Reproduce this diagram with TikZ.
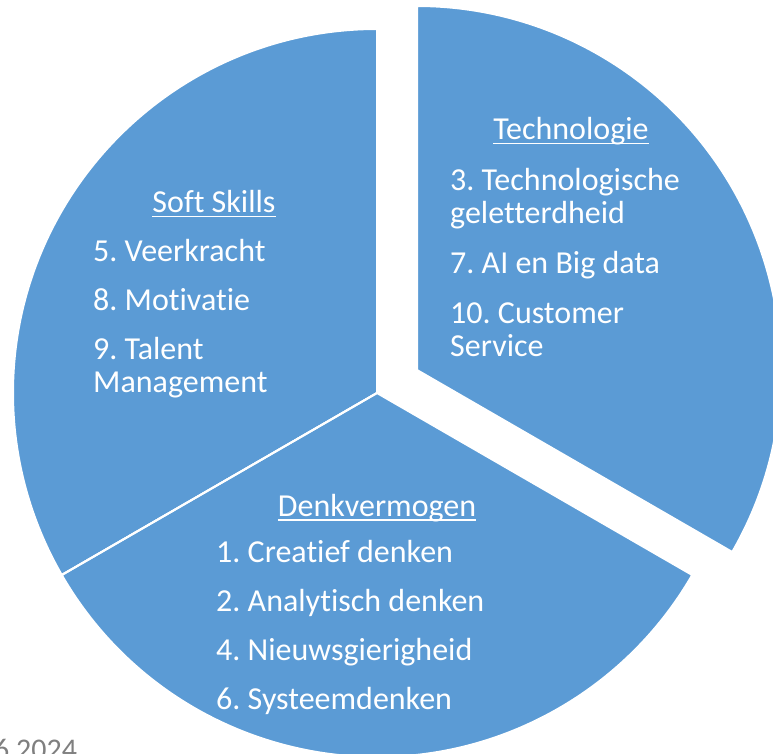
\documentclass[tikz,border=0pt]{standalone}
\usepackage{fontspec}
\setmainfont{Carlito}[Ligatures=NoCommon]
\usepackage{xcolor}
\usepackage{tikz}
\usetikzlibrary{positioning}
\definecolor{pieblue}{HTML}{5B9BD5}
\definecolor{notegray}{HTML}{7F7F7F}
\newcommand\ulined[1]{\setbox0\hbox{#1}\rlap{\rule[-4.5pt]{\wd0}{1.8pt}}\box0}
\frenchspacing

\begin{document}
\begin{tikzpicture}[x=1pt, y=1pt]

\tikzstyle{slice} = [fill=pieblue, draw=white, line width=2pt, line join=miter]
\tikzstyle{heading} = [text=white, inner sep=0pt, anchor=base, font=\fontsize{32}{33}\selectfont]
\tikzstyle{items} = [text=white, inner sep=0pt, anchor=base west, align=left, font=\fontsize{32}{33}\selectfont]

\useasboundingbox (0,0) rectangle (773,753);
\clip (0,0) rectangle (773,753);

\coordinate (hub) at (377,360);
\coordinate (hub-tech) at (417,383);

\fill [slice] (hub) -- ++(90:364) arc (90:210:364) -- cycle;
\fill [slice] (hub) -- ++(210:364) arc (210:330:364) -- cycle;
\fill [slice] (hub-tech) -- ++(-30:364) arc (-30:90:364) -- cycle;
\draw [white, line width=2pt] (hub) -- ++(210:364);

% the base of a list is its last line
\node [heading] (soft-title) at (214,540) {\ulined{Soft Skills}};
\node [items] (soft-list) at (93,360) {5. Veerkracht\\[16pt] 8. Motivatie\\[16pt] 9. Talent\\ Management};

\node [heading] (tech-title) at (571,613) {\ulined{Technologie}};
\node [items] (tech-list) at (450,396) {3. Technologische\\ geletterdheid\\[17pt] 7. AI en Big data\\[17pt] 10. Customer\\ Service};

\node [heading] (denk-title) at (377,237) {\ulined{Denkvermogen}};
\node [items] (denk-list) at (216,44) {1. Creatief denken\\[16pt] 2. Analytisch denken\\[16pt] 4. Nieuwsgierigheid\\[16pt] 6. Systeemdenken};

\node [anchor=base west, inner sep=0pt, text=notegray, font=\fontsize{30}{30}\selectfont] (year) at (-6,-6) {6 2024};
\end{tikzpicture}
\end{document}
